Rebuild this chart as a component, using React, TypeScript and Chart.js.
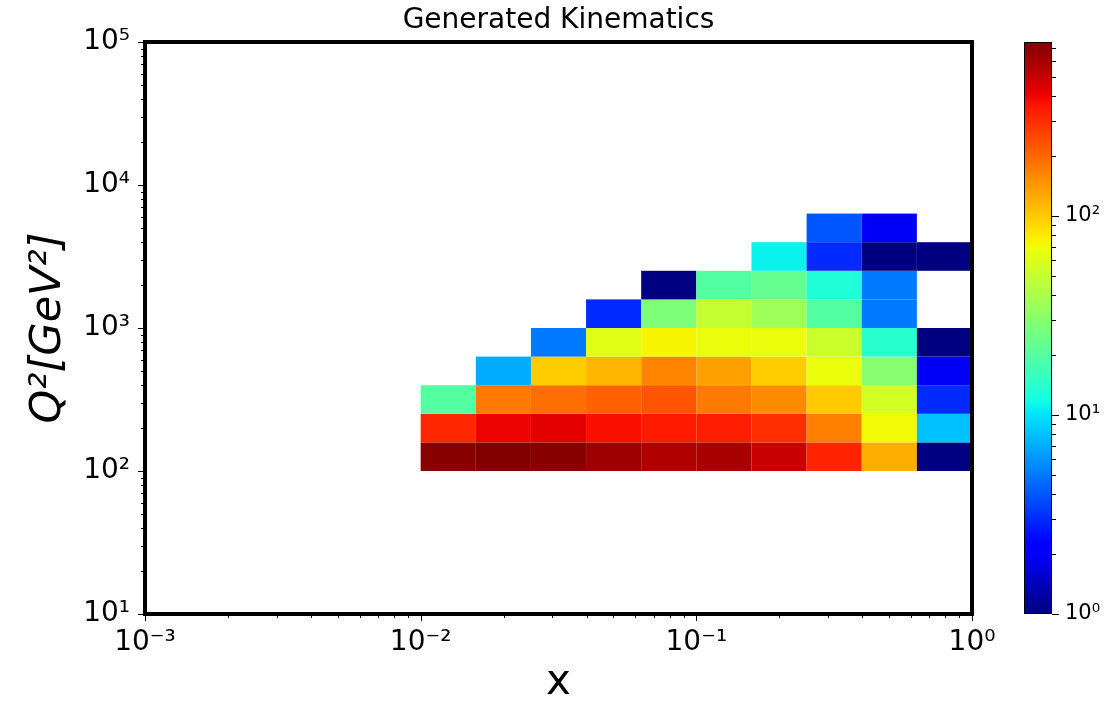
import React, { useEffect, useRef } from "react";
import { Chart, registerables } from "chart.js";

Chart.register(...registerables);
Chart.defaults.font.family = "'DejaVu Sans', sans-serif";
Chart.defaults.color = "#000";

// ---------------- data ----------------
// Bjorken-x bin edges (0.2 decades per bin)
const xBinEdges = [0.01, 0.01585, 0.02512, 0.03981, 0.0631, 0.1, 0.1585, 0.2512, 0.3981, 0.631, 1.0];
// Q² bin edges in GeV² (0.2 decades per bin)
const q2BinEdges = [100, 158.5, 251.2, 398.1, 631, 1000, 1585, 2512, 3981, 6310];

// counts per Q² row (lowest Q² first), one entry per x bin; null = empty bin
const countsRow0 = [714, 748, 714, 636, 568, 594, 494, 322, 122, 1];
const countsRow1 = [313, 400, 419, 374, 344, 335, 299, 168, 71, 8];
const countsRow2 = [20, 176, 191, 211, 227, 176, 155, 100, 55, 3];
const countsRow3 = [null, 7, 99, 115, 162, 133, 99, 67, 30, 2];
const countsRow4 = [null, null, 5, 62, 74, 67, 67, 52, 14, 1];
const countsRow5 = [null, null, null, 3, 28, 49, 36, 20, 5, null];
const countsRow6 = [null, null, null, null, 1, 20, 23, 13, 5, null];
const countsRow7 = [null, null, null, null, null, null, 11, 3, 1, 1];
const countsRow8 = [null, null, null, null, null, null, null, 4, 2, null];
const countRows = [countsRow0, countsRow1, countsRow2, countsRow3, countsRow4, countsRow5, countsRow6, countsRow7, countsRow8];

// axis ranges and tick labels
const xRange = [0.001, 1];
const yRange = [10, 100000];
const colorRange = [1, 748];
const xTickValues = [0.001, 0.01, 0.1, 1];
const xTickLabels = ["10⁻³", "10⁻²", "10⁻¹", "10⁰"];
const yTickValues = [10, 100, 1000, 10000, 100000];
const yTickLabels = ["10¹", "10²", "10³", "10⁴", "10⁵"];
const cbTickValues = [1, 10, 100];
const cbTickLabels = ["10⁰", "10¹", "10²"];

const titleText = "Generated Kinematics";
const xTitle = "x";
const yTitle = "Q²[GeV²]";

// ---------------- helpers ----------------
const JET_R: number[][] = [[0, 0], [0.35, 0], [0.66, 1], [0.89, 1], [1, 0.5]];
const JET_G: number[][] = [[0, 0], [0.125, 0], [0.375, 1], [0.64, 1], [0.91, 0], [1, 0]];
const JET_B: number[][] = [[0, 0.5], [0.11, 1], [0.34, 1], [0.65, 0], [1, 0]];

function channel(t: number, pts: number[][]) {
  for (let k = 0; k < pts.length - 1; k++) {
    const [x0, y0] = pts[k];
    const [x1, y1] = pts[k + 1];
    if (t <= x1) return y0 + ((y1 - y0) * (t - x0)) / (x1 - x0 || 1);
  }
  return pts[pts.length - 1][1];
}
function jet(t: number) {
  const c = Math.max(0, Math.min(1, t));
  const r = Math.round(channel(c, JET_R) * 255);
  const g = Math.round(channel(c, JET_G) * 255);
  const b = Math.round(channel(c, JET_B) * 255);
  return `rgb(${r},${g},${b})`;
}
function colorFor(v: number) {
  const lo = Math.log10(colorRange[0]);
  const hi = Math.log10(colorRange[1]);
  return jet((Math.log10(v) - lo) / (hi - lo));
}
function minorTicks(min: number, max: number) {
  const out: number[] = [];
  for (let d = Math.floor(Math.log10(min)); d < Math.ceil(Math.log10(max)); d++) {
    for (let m = 2; m <= 9; m++) {
      const v = m * Math.pow(10, d);
      if (v > min && v < max) out.push(v);
    }
  }
  return out;
}
function labelFor(values: number[], labels: string[], value: number) {
  const i = values.findIndex((v) => Math.abs(Math.log10(v) - Math.log10(value)) < 1e-6);
  return i >= 0 ? labels[i] : "";
}

const MAJOR = 7;
const MINOR = 4;

const heatmapPlugin = {
  id: "heatmap",
  beforeDatasetsDraw(chart: any) {
    const { ctx } = chart;
    const xs = chart.scales.x;
    const ys = chart.scales.y;
    ctx.save();
    countRows.forEach((row, j) => {
      row.forEach((v, i) => {
        if (v == null) return;
        const x0 = xs.getPixelForValue(xBinEdges[i]);
        const x1 = xs.getPixelForValue(xBinEdges[i + 1]);
        const y0 = ys.getPixelForValue(q2BinEdges[j]);
        const y1 = ys.getPixelForValue(q2BinEdges[j + 1]);
        ctx.fillStyle = colorFor(v as number);
        ctx.fillRect(x0, y1, x1 - x0, y0 - y1);
      });
    });
    ctx.restore();
  },
  afterDraw(chart: any) {
    const { ctx, chartArea: a } = chart;
    const xs = chart.scales.x;
    const ys = chart.scales.y;
    ctx.save();
    ctx.strokeStyle = "#000";
    ctx.lineWidth = 1;
    const drawX = (v: number, len: number) => {
      const p = Math.round(xs.getPixelForValue(v)) + 0.5;
      ctx.beginPath();
      ctx.moveTo(p, a.bottom);
      ctx.lineTo(p, a.bottom + len);
      ctx.stroke();
    };
    const drawY = (v: number, len: number) => {
      const p = Math.round(ys.getPixelForValue(v)) + 0.5;
      ctx.beginPath();
      ctx.moveTo(a.left, p);
      ctx.lineTo(a.left - len, p);
      ctx.stroke();
    };
    xTickValues.forEach((v) => drawX(v, MAJOR));
    minorTicks(xRange[0], xRange[1]).forEach((v) => drawX(v, MINOR));
    yTickValues.forEach((v) => drawY(v, MAJOR));
    minorTicks(yRange[0], yRange[1]).forEach((v) => drawY(v, MINOR));
    ctx.lineWidth = 4;
    ctx.lineJoin = "miter";
    ctx.strokeRect(a.left, a.top, a.right - a.left, a.bottom - a.top);
    ctx.restore();
  },
};

const colorbarPlugin = {
  id: "colorbar",
  beforeDatasetsDraw(chart: any) {
    const { ctx, chartArea: a } = chart;
    const ys = chart.scales.y;
    ctx.save();
    for (let py = Math.floor(a.top); py < Math.ceil(a.bottom); py++) {
      const v = ys.getValueForPixel(py + 0.5);
      ctx.fillStyle = colorFor(v);
      ctx.fillRect(a.left, py, a.right - a.left, 1);
    }
    ctx.restore();
  },
  afterDraw(chart: any) {
    const { ctx, chartArea: a } = chart;
    const ys = chart.scales.y;
    ctx.save();
    ctx.strokeStyle = "#000";
    ctx.lineWidth = 1;
    const drawY = (v: number, len: number) => {
      const p = Math.round(ys.getPixelForValue(v)) + 0.5;
      ctx.beginPath();
      ctx.moveTo(a.right, p);
      ctx.lineTo(a.right + len, p);
      ctx.stroke();
    };
    cbTickValues.forEach((v) => drawY(v, MAJOR));
    minorTicks(colorRange[0], colorRange[1]).forEach((v) => drawY(v, MINOR));
    ctx.strokeRect(a.left + 0.5, a.top + 0.5, a.right - a.left - 1, a.bottom - a.top - 1);
    ctx.restore();
  },
};

const W = 1117;
const H = 704;
const CB_LEFT = 990;

export default function App() {
  const mainRef = useRef<HTMLCanvasElement>(null);
  const cbRef = useRef<HTMLCanvasElement>(null);

  useEffect(() => {
    const main = new Chart(mainRef.current as HTMLCanvasElement, {
      type: "scatter",
      data: { datasets: [] },
      options: {
        animation: false,
        responsive: false,
        devicePixelRatio: 1,
        layout: { padding: { left: 0, right: W - 972, top: 0, bottom: 0 } },
        plugins: {
          legend: { display: false },
          tooltip: { enabled: false },
          title: {
            display: true,
            text: titleText,
            fullSize: false,
            color: "#000",
            font: { size: 28, weight: "normal", lineHeight: 1.2 },
            padding: { top: 3.5, bottom: 4.9 },
          },
        },
        scales: {
          x: {
            type: "logarithmic",
            position: "bottom",
            min: xRange[0],
            max: xRange[1],
            grid: { display: false, drawTicks: false },
            border: { display: false },
            afterBuildTicks: (s: any) => {
              s.ticks = xTickValues.map((v) => ({ value: v }));
            },
            afterFit: (s: any) => {
              s.height = H - 614;
            },
            ticks: {
              autoSkip: false,
              maxRotation: 0,
              padding: 12,
              color: "#000",
              font: { size: 28 },
              callback: (v: any) => labelFor(xTickValues, xTickLabels, Number(v)),
            },
            title: {
              display: true,
              text: xTitle,
              color: "#000",
              font: { size: 42, lineHeight: 1 },
              padding: { top: 0, bottom: 0 },
            },
          },
          y: {
            type: "logarithmic",
            position: "left",
            min: yRange[0],
            max: yRange[1],
            grid: { display: false, drawTicks: false },
            border: { display: false },
            afterBuildTicks: (s: any) => {
              s.ticks = yTickValues.map((v) => ({ value: v }));
            },
            afterFit: (s: any) => {
              s.width = 145;
            },
            ticks: {
              autoSkip: false,
              padding: 15,
              color: "#000",
              font: { size: 28 },
              callback: (v: any) => labelFor(yTickValues, yTickLabels, Number(v)),
            },
            title: {
              display: true,
              text: yTitle,
              color: "#000",
              font: { size: 43, style: "italic", lineHeight: 1 },
              padding: { top: 27, bottom: 0 },
            },
          },
        },
      },
      plugins: [heatmapPlugin],
    } as any);

    const cb = new Chart(cbRef.current as HTMLCanvasElement, {
      type: "scatter",
      data: { datasets: [] },
      options: {
        animation: false,
        responsive: false,
        devicePixelRatio: 1,
        layout: { padding: { left: 1024 - CB_LEFT, right: 0, top: 42, bottom: H - 614 } },
        plugins: { legend: { display: false }, tooltip: { enabled: false }, title: { display: false } },
        scales: {
          x: { display: false, min: 0, max: 1 },
          y: {
            type: "logarithmic",
            position: "right",
            min: colorRange[0],
            max: colorRange[1],
            grid: { display: false, drawTicks: false },
            border: { display: false },
            afterBuildTicks: (s: any) => {
              s.ticks = cbTickValues.map((v) => ({ value: v }));
            },
            afterFit: (s: any) => {
              s.width = W - CB_LEFT - (1024 - CB_LEFT) - 28;
            },
            ticks: {
              autoSkip: false,
              padding: 13,
              color: "#000",
              font: { size: 21 },
              callback: (v: any) => labelFor(cbTickValues, cbTickLabels, Number(v)),
            },
          },
        },
      },
      plugins: [colorbarPlugin],
    } as any);

    return () => {
      main.destroy();
      cb.destroy();
    };
  }, []);

  return (
    <div style={{ position: "absolute", left: 0, top: 0, width: W, height: H, background: "#fff" }}>
      <canvas
        ref={mainRef}
        width={W}
        height={H}
        style={{ position: "absolute", left: 0, top: 0, width: W, height: H }}
      />
      <canvas
        ref={cbRef}
        width={W - CB_LEFT}
        height={H}
        style={{ position: "absolute", left: CB_LEFT, top: 0, width: W - CB_LEFT, height: H }}
      />
    </div>
  );
}
